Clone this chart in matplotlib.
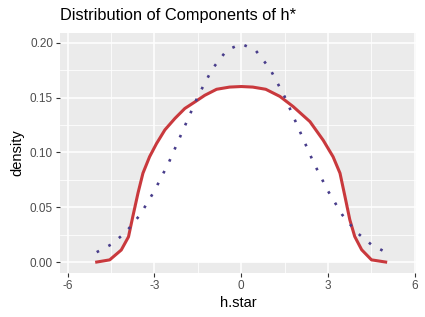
import numpy as np
import matplotlib.pyplot as plt

plt.rcParams['font.family'] = ['Liberation Sans', 'DejaVu Sans']

# values
red_x = [-5, -4.55, -4.15, -3.9, -3.75, -3.57, -3.4, -3.17, -2.93, -2.64, -2.29, -1.95, -1.6, -1.26,
         -0.85, -0.4, 0, 0.4, 0.85, 1.34, 1.8, 2.38, 2.84, 3.18, 3.42, 3.59, 3.76, 3.93, 4.17, 4.51, 5]
red_y = [0.000, 0.002, 0.011, 0.023, 0.0415, 0.063, 0.081, 0.096, 0.108, 0.1205, 0.131, 0.140, 0.146, 0.152,
         0.1575, 0.1595, 0.160, 0.1595, 0.1575, 0.151, 0.1417, 0.128, 0.111, 0.096, 0.081, 0.060, 0.0385,
         0.0233, 0.0112, 0.002, 0.000]

blue_x = [-5, -4.5, -4, -3.5, -3, -2.5, -2, -1.5, -1, -0.5, 0, 0.5, 1, 1.5, 2, 2.5, 3, 3.5, 4, 4.5, 5]
blue_y = [0.009, 0.016, 0.027, 0.043, 0.065, 0.091, 0.121, 0.151, 0.176, 0.193, 0.199,
          0.193, 0.176, 0.151, 0.121, 0.091, 0.065, 0.043, 0.027, 0.016, 0.009]

x_ticks = [-6, -3, 0, 3, 6]
y_ticks = [0.00, 0.05, 0.10, 0.15, 0.20]

fig = plt.figure(figsize=(4.25, 3.17), dpi=100)
ax = fig.add_axes([0.1412, 0.1388, 0.8376, 0.7571])
ax.set_facecolor('#EBEBEB')
for s in ax.spines.values():
    s.set_visible(False)

ax.set_xlim(-6.27, 6.05)
ax.set_ylim(-0.00998, 0.2088)
ax.set_xticks(x_ticks)
ax.set_xticklabels([str(t) for t in x_ticks])
ax.set_yticks(y_ticks)
ax.set_yticklabels(['%.2f' % t for t in y_ticks])
ax.set_xticks([-4.5, -1.5, 1.5, 4.5], minor=True)
ax.set_yticks([0.025, 0.075, 0.125, 0.175], minor=True)
ax.grid(which='major', color='white', linewidth=1.1)
ax.grid(which='minor', color='white', linewidth=0.55)
ax.set_axisbelow(True)
ax.tick_params(which='major', length=3, width=0.8, color='#333333', labelcolor='#4D4D4D',
               labelsize=8.5, pad=2)
ax.tick_params(which='minor', length=0)

ax.fill_between(red_x, red_y, 0, color='white', zorder=2, linewidth=0)
ax.plot(red_x, red_y, color='#C9393D', linewidth=2.2, zorder=3, solid_joinstyle='round')
ax.plot(blue_x, blue_y, color='#483D8B', linewidth=1.9, linestyle=(0, (1, 4)), zorder=4)

ax.set_xlabel('h.star', fontsize=10.5, labelpad=3)
ax.set_ylabel('density', fontsize=10.5, labelpad=4)
fig.text(0.1412, 0.952, 'Distribution of Components of h*', fontsize=11.8, va='center', ha='left')

fig.savefig('out.png', dpi=100)
